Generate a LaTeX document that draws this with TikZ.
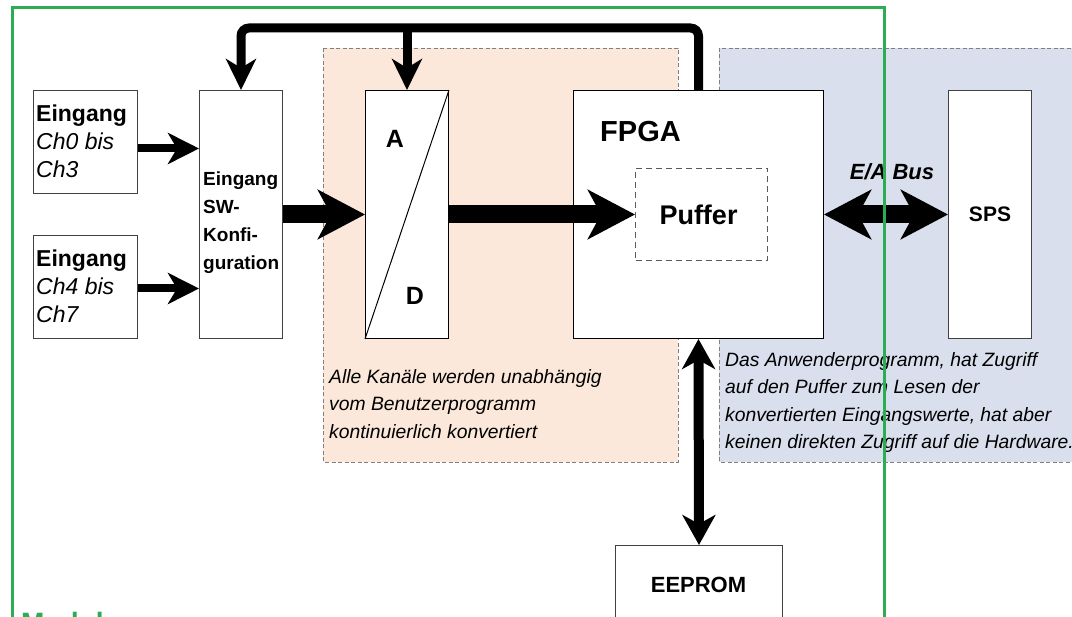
\documentclass[tikz,border=0pt]{standalone}
\usepackage{fontspec}
\setmainfont{Liberation Sans}
\usetikzlibrary{arrows.meta}
\definecolor{orfill}{RGB}{251,232,218}
\definecolor{blfill}{RGB}{217,223,236}
\definecolor{grframe}{RGB}{43,174,83}
\definecolor{dashgray}{RGB}{128,128,128}
\tikzset{
  blk/.style={draw=black!75, line width=1pt, fill=white, anchor=north west, inner sep=0pt},
  region/.style={draw=dashgray, dash pattern=on 4pt off 2.5pt, line width=0.9pt},
  thin/.style={line width=8pt, -{Stealth[length=31pt,width=31pt,inset=9pt]}},
  fat/.style={line width=18pt, -{Stealth[length=47pt,width=49pt,inset=13pt]}},
  fatboth/.style={line width=18pt, {Stealth[length=47pt,width=49pt,inset=13pt]}-{Stealth[length=47pt,width=49pt,inset=13pt]}},
  fb/.style={line width=9pt, -{Stealth[length=31pt,width=30pt,inset=9pt]}},
  vboth/.style={line width=10pt, {Stealth[length=30pt,width=33pt,inset=9pt]}-{Stealth[length=30pt,width=33pt,inset=9pt]}},
  note/.style={anchor=north west, inner sep=0pt, align=left, font=\fontsize{19.3}{27.5}\selectfont\itshape},
}
\begin{document}
\begin{tikzpicture}[x=1pt,y=-1pt]
\useasboundingbox (0,0) rectangle (1072,617);
\clip (0,0) rectangle (1072,617);
\fill[white] (0,0) rectangle (1072,617);
% regions
\draw[region, fill=orfill] (323,48) rectangle (678,462);
\draw[region, fill=blfill] (719,48) rectangle (1095,462);
% boxes
\node[blk, minimum width=104pt, minimum height=103pt] (in1) at (33,90) {};
\node[anchor=west, inner sep=0pt, align=left, font=\fontsize{23}{28}\selectfont] (in1t) at (36,141.5) {\textbf{Eingang}\\\textit{Ch0 bis}\\\textit{Ch3}};
\node[blk, minimum width=104pt, minimum height=103pt] (in2) at (33,235) {};
\node[anchor=west, inner sep=0pt, align=left, font=\fontsize{23}{28}\selectfont] (in2t) at (36,286.5) {\textbf{Eingang}\\\textit{Ch4 bis}\\\textit{Ch7}};
\node[blk, minimum width=83pt, minimum height=248pt] (sw) at (199,90) {};
\node[anchor=west, inner sep=0pt, align=left, font=\fontsize{19}{28}\selectfont\bfseries] (swt) at (203,223) {Eingang\\SW-\\Konfi-\\guration};
\node[blk, draw=black, minimum width=83pt, minimum height=248pt] (ad) at (365,90) {};
\draw[line width=1pt] (ad.north east) -- (ad.south west);
\node[font=\fontsize{25}{30}\selectfont\bfseries] (adA) at (395,139) {A};
\node[font=\fontsize{25}{30}\selectfont\bfseries] (adD) at (415,296) {D};
\node[blk, draw=black, minimum width=250pt, minimum height=248pt] (fpga) at (573,90) {};
\node[anchor=west, inner sep=0pt, font=\fontsize{29}{32}\selectfont\bfseries] (fpgat) at (600,132) {FPGA};
\node[anchor=north west, draw=black!65, dash pattern=on 6pt off 4pt, line width=1pt, minimum width=132pt, minimum height=92pt, inner sep=0pt, font=\fontsize{27}{30}\selectfont\bfseries] (puf) at (635,168) {\hspace*{-6pt}Puffer};
\node[blk, minimum width=83pt, minimum height=248pt, font=\fontsize{21}{26}\selectfont\bfseries] (sps) at (948,90) {SPS};
\node[blk, minimum width=167pt, minimum height=110pt] (eep) at (615,545) {};
\node[font=\fontsize{22}{26}\selectfont\bfseries] (eept) at (698.5,585) {EEPROM};
% notes
\node[note] (n1) at (329,369) {Alle Kanäle werden unabhängig\\vom Benutzerprogramm\\kontinuierlich konvertiert};
\node[note] (n2) at (725,352) {Das Anwenderprogramm, hat Zugriff\\auf den Puffer zum Lesen der\\konvertierten Eingangswerte, hat aber\\keinen direkten Zugriff auf die Hardware.};
\node[font=\fontsize{22}{26}\selectfont\bfseries\itshape] (ea) at (892,172) {E/A Bus};
% arrows
\draw[thin] ([yshift=-6.5pt]in1.east) -- ([yshift=-6.5pt]in1.east -| sw.west);
\draw[thin] ([yshift=-1.5pt]in2.east) -- ([yshift=-1.5pt]in2.east -| sw.west);
\draw[fat] (sw.east) -- (ad.west);
\draw[fat] (ad.east) -- (puf.west);
\draw[fatboth] (fpga.east) -- (sps.west);
\coordinate (fbtop) at (0,28);
\draw[fb, rounded corners=8pt] (fpga.north) -- (fpga.north |- fbtop) -| (sw.north);
\draw[fb] (ad.north |- fbtop) -- (ad.north);
\draw[vboth] (fpga.south) -- (eep.north);
% module frame
\draw[grframe, line width=3pt] (12,650) -- (12,8) -- (884,8) -- (884,650);
\node[anchor=north west, inner sep=0pt, text=grframe, font=\fontsize{28}{32}\selectfont\bfseries] (modul) at (21,612) {Modul};
\end{tikzpicture}
\end{document}
